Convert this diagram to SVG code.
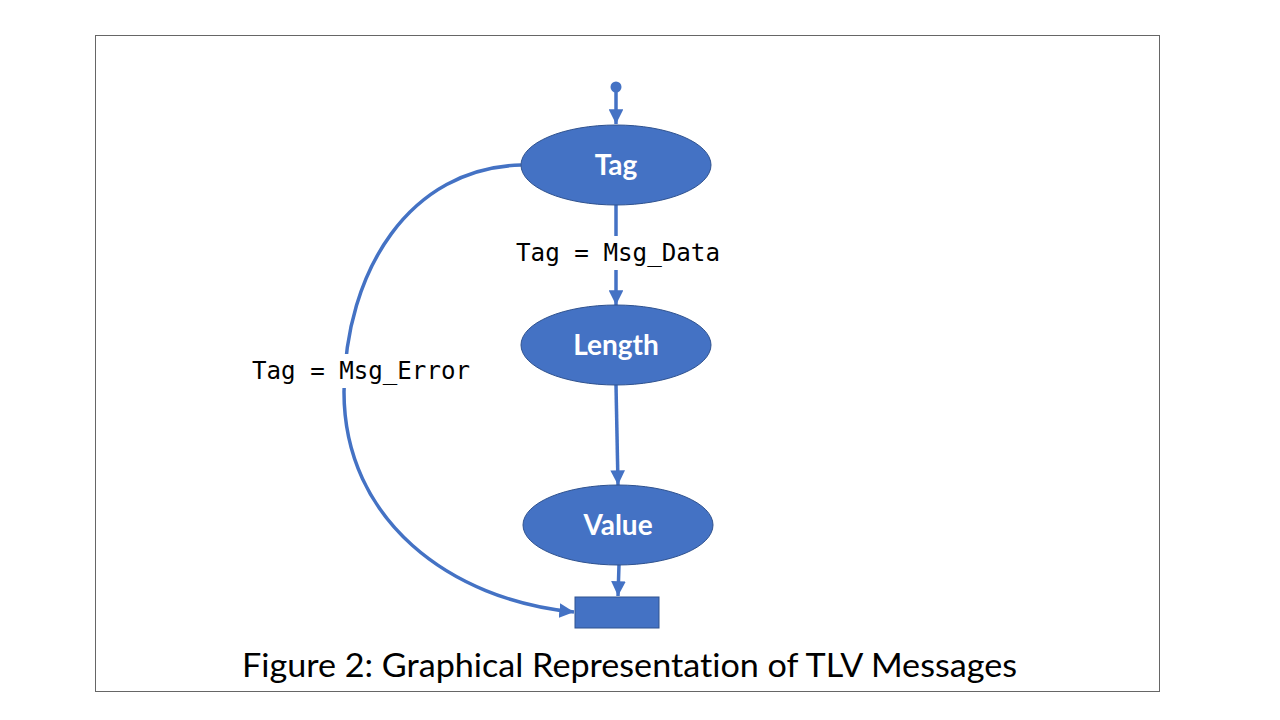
<svg xmlns="http://www.w3.org/2000/svg" width="1280" height="720" viewBox="0 0 1280 720">
<style>
.node{fill:#4472C4;stroke:#2F528F;stroke-width:1}
.nl{font-family:Lato,"Open Sans",sans-serif;font-weight:bold;font-size:28px;fill:#fff;text-anchor:middle}
.conn{fill:none;stroke:#4472C4;stroke-width:3.5}
.lbl{font-family:"DejaVu Sans Mono","Liberation Mono",monospace;font-size:24px;fill:#000}
.title{font-family:Lato,"Open Sans",sans-serif;font-size:32px;fill:#000;font-variant-ligatures:none}
</style>
<defs>
<marker id="ah" viewBox="0 0 10 10" refX="10" refY="5" markerWidth="4.2" markerHeight="4.2" orient="auto" markerUnits="strokeWidth">
<path d="M0,0 L10,5 L0,10 z" fill="#4472C4"/>
</marker>
</defs>
<rect x="0" y="0" width="1280" height="720" fill="#fff"/>
<rect x="95.5" y="35.5" width="1064" height="656" fill="#fff" stroke="#666" stroke-width="1"/>
<g id="connectors">
<circle cx="616" cy="87" r="5.5" fill="#4472C4"/>
<path class="conn" d="M616,87 L616,124" marker-end="url(#ah)"/>
<path class="conn" d="M616,205 L616,305" marker-end="url(#ah)"/>
<path class="conn" d="M616,385 L618,485" marker-end="url(#ah)"/>
<path class="conn" d="M619,565 L618,596" marker-end="url(#ah)"/>
<path class="conn" d="M521,165 C410,168 345,270 344,392 C344,520 450,600 574,612" marker-end="url(#ah)"/>
</g>
<g id="label-data">
<rect x="512" y="236" width="212" height="34" fill="#fff"/>
<text class="lbl" x="516" y="261" textLength="204" lengthAdjust="spacingAndGlyphs">Tag = Msg_Data</text>
</g>
<g id="label-error">
<rect x="248" y="354" width="226" height="34" fill="#fff"/>
<text class="lbl" x="252" y="379" textLength="218" lengthAdjust="spacingAndGlyphs">Tag = Msg_Error</text>
</g>
<g id="node-tag">
<ellipse class="node" cx="616" cy="165" rx="95" ry="40"/>
<text class="nl" x="616" y="175">Tag</text>
</g>
<g id="node-length">
<ellipse class="node" cx="616" cy="345" rx="95" ry="40"/>
<text class="nl" x="616" y="355">Length</text>
</g>
<g id="node-value">
<ellipse class="node" cx="618" cy="525" rx="95" ry="40"/>
<text class="nl" x="618" y="535">Value</text>
</g>
<g id="node-end">
<rect class="node" x="575" y="597" width="84" height="31"/>
</g>
<text class="title" x="242" y="677" textLength="775" lengthAdjust="spacingAndGlyphs">Figure 2: Graphical Representation of TLV Messages</text>
</svg>
